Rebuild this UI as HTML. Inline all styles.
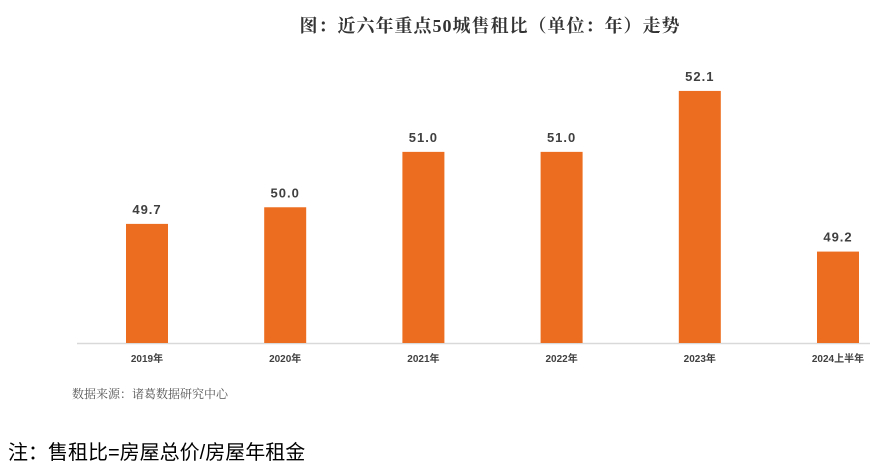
<!DOCTYPE html>
<html><head><meta charset="utf-8"><style>
body{margin:0;background:#fff;width:880px;height:475px;overflow:hidden;position:relative}
svg{position:absolute;left:0;top:0}
</style></head><body>
<svg width="880" height="475">
<text x="490" y="32" text-anchor="middle" font-family="'Liberation Serif','Noto Serif CJK SC',serif" font-size="18" font-weight="bold" fill="#333" letter-spacing="1">图：近六年重点50城售租比（单位：年）走势</text>
<line x1="77" y1="343.5" x2="870" y2="343.5" stroke="#d9d9d9" stroke-width="1.5"/>
<g id="bars"></g>
<text x="72" y="398" font-family="'Liberation Serif','Noto Serif CJK SC',serif" font-size="12" fill="#555">数据来源：诸葛数据研究中心</text>
<text x="8" y="459" font-family="'Liberation Sans','Noto Sans CJK SC',sans-serif" font-size="20" fill="#000">注：售租比=房屋总价/房屋年租金</text>
</svg>
<script>
const categories=["2019年","2020年","2021年","2022年","2023年","2024上半年"];
const values=[49.7,50.0,51.0,51.0,52.1,49.2];
const valueLabels=["49.7","50.0","51.0","51.0","52.1","49.2"];
const base=47.55, pxPerUnit=55.4, baseY=343, x0=147, step=138.2, bw=42;
const yScale=v=>baseY-(v-base)*pxPerUnit;
const xScale=i=>x0+i*step;
const g=document.getElementById('bars');
const ns='http://www.w3.org/2000/svg';
categories.forEach((c,i)=>{
  const y=yScale(values[i]);
  const r=document.createElementNS(ns,'rect');
  r.setAttribute('x',xScale(i)-bw/2);r.setAttribute('y',y);
  r.setAttribute('width',bw);r.setAttribute('height',baseY-y);
  r.setAttribute('fill','#ec6d1f');
  
  
  g.appendChild(r);
  const t=document.createElementNS(ns,'text');
  t.setAttribute('x',xScale(i));t.setAttribute('y',y-10);
  t.setAttribute('text-anchor','middle');
  t.setAttribute('font-family',"'Liberation Sans',sans-serif");
  t.setAttribute('font-size','13');t.setAttribute('font-weight','bold');
  t.setAttribute('fill','#404040');t.setAttribute('letter-spacing','1');
  t.textContent=valueLabels[i];
  
  
  g.appendChild(t);
  const l=document.createElementNS(ns,'text');
  l.setAttribute('x',xScale(i));l.setAttribute('y',362);
  l.setAttribute('text-anchor','middle');
  l.setAttribute('font-family',"'Liberation Sans','Noto Sans CJK SC',sans-serif");
  l.setAttribute('font-size','10');l.setAttribute('font-weight','bold');
  l.setAttribute('fill','#404040');
  l.textContent=c;
  
  
  g.appendChild(l);
});
</script>
</body></html>
